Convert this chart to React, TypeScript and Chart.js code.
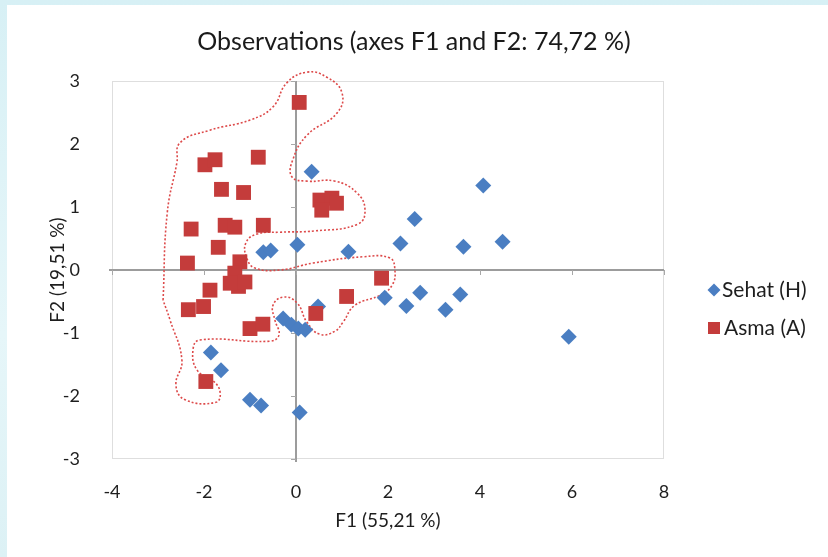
import React, { useEffect, useRef } from 'react';
import { Chart, registerables } from 'chart.js';

Chart.register(...registerables);

// Observation scores on the first two factorial axes
const sehatF1 = [0.34, 4.07, 2.58, 2.27, 0.03, 1.14, 3.64, 4.49, -0.71, -0.55, 1.93, 2.4, 2.7, 3.25, 3.57, 5.93, 0.48, -0.28, -0.1, 0.05, 0.2, -1.85, -1.63, -1.0, -0.76, 0.08];
const sehatF2 = [1.56, 1.34, 0.81, 0.42, 0.4, 0.29, 0.37, 0.45, 0.28, 0.31, -0.44, -0.57, -0.36, -0.63, -0.39, -1.06, -0.58, -0.77, -0.87, -0.93, -0.95, -1.31, -1.59, -2.06, -2.15, -2.26];

const asmaF1 = [0.07, -1.98, -1.76, -0.82, -1.62, -1.14, 0.52, 0.78, 0.88, 0.56, -2.28, -1.54, -1.33, -0.71, -1.69, -2.36, -1.22, -1.33, -1.25, -1.43, -1.11, -1.87, -2.01, -2.34, -1.0, -0.72, 0.43, 1.1, 1.86, -1.96];
const asmaF2 = [2.66, 1.67, 1.75, 1.79, 1.28, 1.23, 1.11, 1.14, 1.06, 0.95, 0.65, 0.71, 0.68, 0.71, 0.36, 0.11, 0.13, -0.05, -0.26, -0.21, -0.19, -0.32, -0.58, -0.63, -0.93, -0.86, -0.69, -0.42, -0.13, -1.77];

// Hand-drawn dotted contour around the Asma group (factor-plane coordinates)
const contourF1 = [-2.89, -2.8, -2.59, -2.52, -1.87, -1.0, -0.5, -0.2, 0.24, 0.67, 1.0, 0.89, 0.24, -0.07, -0.09, 0.24, 0.85, 1.33, 1.5, 1.35, 0.41, -0.35, -0.85, -1.09, -1.07, -0.89, -0.35, 0.37, 1.46, 2.04, 2.15, 2.09, 1.83, 1.28, 1.02, 0.85, 0.52, 0.24, 0.02, -0.28, -0.5, -0.46, -0.37, -0.57, -2.09, -2.24, -2.15, -1.8, -1.65, -1.74, -2.41, -2.61, -2.48, -2.74, -2.89];
const contourF2 = [-0.48, 0.9, 1.7, 2.02, 2.22, 2.38, 2.59, 2.97, 3.14, 3.06, 2.81, 2.49, 2.14, 1.75, 1.48, 1.41, 1.41, 1.22, 0.95, 0.73, 0.62, 0.6, 0.57, 0.43, 0.19, 0.03, 0.0, 0.11, 0.21, 0.19, 0.0, -0.24, -0.4, -0.56, -0.83, -0.97, -1.02, -0.83, -0.52, -0.43, -0.56, -0.79, -1.03, -1.13, -1.11, -1.27, -1.59, -1.76, -1.94, -2.1, -2.06, -1.83, -1.43, -0.79, -0.48];

const xTickValues = [-4, -2, 0, 2, 4, 6, 8];
const yTickValues = [-3, -2, -1, 0, 1, 2, 3];
const seriesNames = ['Sehat (H)', 'Asma (A)'];

const BLUE = '#4a7ec2';
const RED = '#c43c3b';
const FONT = 'Lato, "Noto Sans", sans-serif';
const TEXT = '#1e1e1e';

const toPoints = (xs: number[], ys: number[]) => xs.map((x, i) => ({ x, y: ys[i] }));

// Plot frame, the two zero axes and their small tick marks
const frameAndAxes = {
  id: 'frameAndAxes',
  beforeDatasetsDraw(chart: any) {
    const { ctx, chartArea: a } = chart;
    const xs = chart.scales.x;
    const ys = chart.scales.y;
    ctx.save();
    ctx.strokeStyle = '#dedede';
    ctx.lineWidth = 1;
    ctx.strokeRect(a.left + 0.5, a.top + 0.5, a.width - 1, a.height - 1);
    const x0 = Math.round(xs.getPixelForValue(0));
    const y0 = Math.round(ys.getPixelForValue(0));
    ctx.strokeStyle = '#9c9c9c';
    ctx.lineWidth = 2;
    ctx.beginPath();
    ctx.moveTo(a.left - 3, y0);
    ctx.lineTo(a.right, y0);
    ctx.moveTo(x0, a.top);
    ctx.lineTo(x0, a.bottom + 3);
    ctx.stroke();
    ctx.lineWidth = 1;
    ctx.strokeStyle = '#a8a8a8';
    ctx.beginPath();
    for (const v of xTickValues) {
      const px = Math.round(xs.getPixelForValue(v)) + 0.5;
      ctx.moveTo(px, y0);
      ctx.lineTo(px, y0 + 5);
    }
    for (const v of yTickValues) {
      const py = Math.round(ys.getPixelForValue(v)) + 0.5;
      ctx.moveTo(x0, py);
      ctx.lineTo(x0 - 5, py);
    }
    ctx.stroke();
    ctx.restore();
  },
};

// Series key placed to the right of the plot
const sideLegend = {
  id: 'sideLegend',
  afterDraw(chart: any) {
    const { ctx, chartArea: a } = chart;
    const left = a.right + 44;
    const rows = [a.top + 209, a.top + 247];
    ctx.save();
    ctx.font = `21px ${FONT}`;
    ctx.textBaseline = 'middle';
    // diamond
    const r = 6.5;
    ctx.fillStyle = BLUE;
    ctx.beginPath();
    ctx.moveTo(left + 6, rows[0] - r);
    ctx.lineTo(left + 6 + r, rows[0]);
    ctx.lineTo(left + 6, rows[0] + r);
    ctx.lineTo(left + 6 - r, rows[0]);
    ctx.closePath();
    ctx.fill();
    // square
    ctx.fillStyle = RED;
    ctx.fillRect(left, rows[1] - 6, 12, 12);
    ctx.fillStyle = TEXT;
    ctx.fillText(seriesNames[0], left + 14, rows[0]);
    ctx.fillText(seriesNames[1], left + 16, rows[1]);
    ctx.restore();
  },
};

export default function App() {
  const canvasRef = useRef<HTMLCanvasElement>(null);

  useEffect(() => {
    const canvas = canvasRef.current;
    if (!canvas) return;
    const chart = new Chart(canvas, {
      type: 'scatter',
      data: {
        datasets: [
          {
            label: seriesNames[0],
            data: toPoints(sehatF1, sehatF2),
            pointStyle: 'rectRot',
            pointRadius: 8,
            pointHoverRadius: 8,
            backgroundColor: BLUE,
            borderColor: BLUE,
            borderWidth: 0,
            order: 2,
          },
          {
            label: seriesNames[1],
            data: toPoints(asmaF1, asmaF2),
            pointStyle: 'rect',
            pointRadius: 10.5,
            pointHoverRadius: 10.5,
            backgroundColor: RED,
            borderColor: RED,
            borderWidth: 0,
            order: 1,
          },
          {
            label: 'contour',
            data: toPoints(contourF1, contourF2),
            showLine: true,
            tension: 0.45,
            pointRadius: 0,
            pointHoverRadius: 0,
            borderColor: '#dd4a4a',
            borderWidth: 1.6,
            borderDash: [2, 2],
            fill: false,
            clip: false,
            order: 3,
          } as any,
        ],
      },
      options: {
        animation: false,
        responsive: false,
        events: [],
        layout: { padding: 0 },
        plugins: {
          legend: { display: false },
          tooltip: { enabled: false },
          title: {
            display: true,
            text: 'Observations (axes F1 and F2: 74,72 %)',
            color: '#1a1a1a',
            font: { family: FONT, size: 25, weight: 'normal' },
            padding: { top: 27, bottom: 24 },
          },
        },
        scales: {
          x: {
            type: 'linear',
            min: -4,
            max: 8,
            afterBuildTicks: (s: any) => {
              s.ticks = xTickValues.map((value) => ({ value }));
            },
            ticks: { padding: 22, color: TEXT, font: { family: FONT, size: 18 }, callback: (v: any) => String(v) },
            grid: { display: false, drawTicks: false },
            border: { display: false },
            title: {
              display: true,
              text: 'F1 (55,21 %)',
              color: TEXT,
              font: { family: FONT, size: 19 },
              padding: { top: 0, bottom: 24.6 },
            },
            afterFit: (s: any) => {
              s.height = 98;
            },
          },
          y: {
            type: 'linear',
            min: -3,
            max: 3,
            afterBuildTicks: (s: any) => {
              s.ticks = yTickValues.map((value) => ({ value }));
            },
            ticks: { padding: 32, color: TEXT, font: { family: FONT, size: 18 }, callback: (v: any) => String(v) },
            grid: { display: false, drawTicks: false },
            border: { display: false },
            title: {
              display: true,
              text: 'F2 (19,51 %)',
              color: TEXT,
              font: { family: FONT, size: 19 },
              padding: { top: 46.6, bottom: 0 },
            },
            afterFit: (s: any) => {
              s.width = 112;
            },
          },
          side: {
            type: 'linear',
            position: 'right',
            min: 0,
            max: 1,
            display: true,
            ticks: { display: false },
            grid: { display: false, drawTicks: false },
            border: { display: false },
            afterFit: (s: any) => {
              s.width = 164;
            },
          },
        },
      },
      plugins: [frameAndAxes, sideLegend],
    } as any);
    return () => chart.destroy();
  }, []);

  return (
    <div
      style={{
        position: 'fixed',
        left: 0,
        top: 0,
        width: 828,
        height: 557,
        background: 'linear-gradient(180deg, #d7f0f5 0%, #e6f6f9 60%, #dcf1f5 100%)',
        overflow: 'hidden',
      }}
    >
      <div style={{ position: 'absolute', left: 7, top: 5, right: 0, bottom: 0, background: '#ffffff' }} />
      <canvas
        ref={canvasRef}
        width={828}
        height={557}
        style={{ position: 'absolute', left: 0, top: 0, width: 828, height: 557 }}
      />
    </div>
  );
}
